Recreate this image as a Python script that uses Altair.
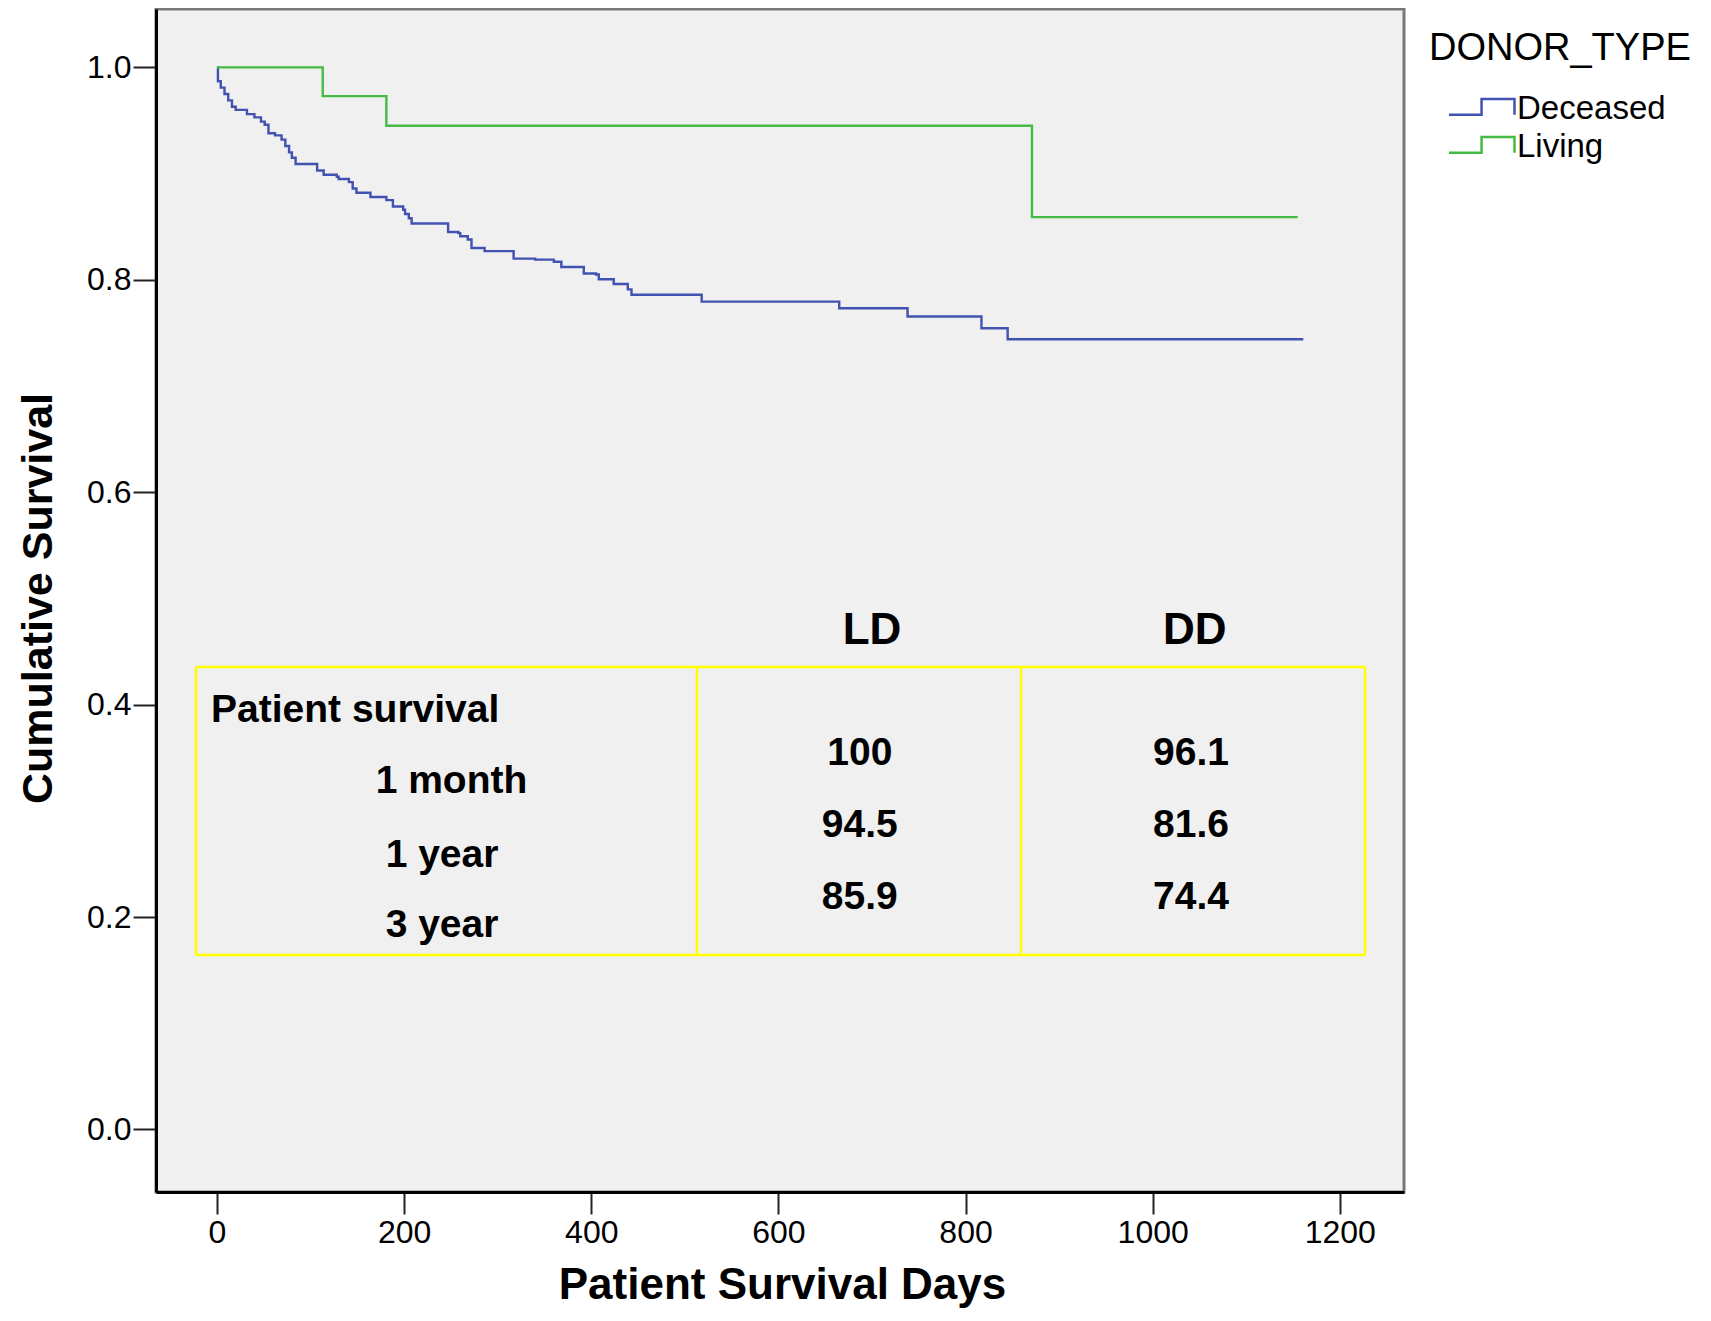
import altair as alt
import pandas as pd

# ---- survival curves (Kaplan-Meier steps) ----
deceased_days = [0, 1, 4, 8, 12, 16, 20, 32, 40, 47, 51, 55, 62, 69, 73, 77, 80, 84,
                 107, 114, 128, 130, 141, 145, 149, 164, 181, 188, 199, 201, 205, 208,
                 247, 258, 260, 268, 272, 286, 317, 340, 360, 368, 392, 405, 408, 424,
                 439, 443, 518, 665, 738, 817, 845, 1161]
deceased_surv = [1.0, 0.987, 0.981, 0.975, 0.969, 0.963, 0.960, 0.956, 0.953, 0.949, 0.946,
                 0.938, 0.936, 0.932, 0.926, 0.920, 0.915, 0.909, 0.903, 0.899, 0.897, 0.895,
                 0.892, 0.886, 0.882, 0.878, 0.875, 0.869, 0.866, 0.862, 0.858, 0.853,
                 0.845, 0.844, 0.841, 0.838, 0.830, 0.827, 0.820, 0.819, 0.817, 0.812,
                 0.806, 0.805, 0.8005, 0.796, 0.791, 0.786, 0.7795, 0.7733, 0.7654, 0.7544,
                 0.744, 0.744]
living_days = [0, 113, 181, 871, 1155]
living_surv = [1.0, 0.973, 0.945, 0.859, 0.859]

series_names = ["Deceased", "Living"]
series_colors = ["#4152B0", "#44BB44"]

x_ticks = [0, 200, 400, 600, 800, 1000, 1200]
y_ticks = [0.0, 0.2, 0.4, 0.6, 0.8, 1.0]

# ---- inset table text ----
table_headers = ["LD", "DD"]
table_title = ["Patient survival"]
table_rows = ["1 month", "1 year", "3 year"]
ld_values = ["100", "94.5", "85.9"]
dd_values = ["96.1", "81.6", "74.4"]

# anchors of the inset table, in data space (days, survival)
box_days = [-22.4, 513, 859.3, 1227]
box_surv = [0.4355, 0.1643]
header_days = [700, 1045]
header_surv = 0.4572
title_day = -6.4
title_surv = 0.3837
row_days = [250.6, 240.5, 240.5]
row_surv = [0.3169, 0.2472, 0.1813]
value_days = [687, 1041]
value_surv = [0.3432, 0.2754, 0.2076]

FONT = "Liberation Sans"

curves = pd.DataFrame({
    "day": deceased_days + living_days,
    "surv": deceased_surv + living_surv,
    "type": ["Deceased"] * len(deceased_days) + ["Living"] * len(living_days),
})


def xenc():
    return alt.X("day:Q", title="Patient Survival Days",
                 scale=alt.Scale(domain=[-65.2, 1268.6], nice=False, zero=False),
                 axis=alt.Axis(values=x_ticks, format="d", tickSize=22, labelPadding=3,
                               labelFontSize=32, titleFontSize=44, titleFontWeight="bold",
                               titleX=626, titleY=106, titleAlign="center",
                               titleBaseline="alphabetic", grid=False))


def yenc():
    return alt.Y("surv:Q", title="Cumulative Survival",
                 scale=alt.Scale(domain=[-0.0589, 1.055], nice=False, zero=False),
                 axis=alt.Axis(values=y_ticks, format=".1f", tickSize=23, labelPadding=2,
                               labelFontSize=32, titleFontSize=43, titleFontWeight="bold",
                               titleX=-105, titleY=589, titleAngle=270, titleAlign="center",
                               titleBaseline="alphabetic", grid=False))


lines = alt.Chart(curves).mark_line(interpolate="step-after", strokeWidth=2.4).encode(
    x=xenc(), y=yenc(),
    color=alt.Color("type:N", scale=alt.Scale(domain=series_names, range=series_colors),
                    legend=alt.Legend(
                        title="DONOR_TYPE", orient="none", legendX=1273, legendY=21,
                        titleFontSize=38, titleFontWeight="normal", titleColor="black",
                        titleLimit=600, labelLimit=400,
                        titlePadding=21, labelFontSize=33, labelColor="black",
                        symbolType="M0,0.31 L1.76,0.31 L1.76,-0.54 L3.54,-0.54 L3.54,0.31",
                        symbolSize=1369, symbolStrokeWidth=2.5, labelOffset=48,
                        rowPadding=1, padding=0)),
)

hrules = pd.DataFrame({"day": [box_days[0]] * 2, "day2": [box_days[-1]] * 2, "surv": box_surv})
vrules = pd.DataFrame({"day": box_days, "surv": [box_surv[0]] * 4, "surv2": [box_surv[1]] * 4})

h = alt.Chart(hrules).mark_rule(color="#FFFF00", strokeWidth=2.5).encode(
    x=xenc(), x2="day2:Q", y=yenc())
v = alt.Chart(vrules).mark_rule(color="#FFFF00", strokeWidth=2.5).encode(
    x=xenc(), y=yenc(), y2="surv2:Q")

headers_df = pd.DataFrame({"day": header_days, "surv": [header_surv] * 2, "t": table_headers})
title_df = pd.DataFrame({"day": [title_day], "surv": [title_surv], "t": table_title})
rows_df = pd.DataFrame({"day": row_days, "surv": row_surv, "t": table_rows})
vals_df = pd.DataFrame({
    "day": [value_days[0]] * 3 + [value_days[1]] * 3,
    "surv": value_surv + value_surv,
    "t": ld_values + dd_values,
})

txt_headers = alt.Chart(headers_df).mark_text(
    font=FONT, fontWeight="bold", fontSize=44, align="center", baseline="alphabetic",
    color="black").encode(x=xenc(), y=yenc(), text="t:N")
txt_title = alt.Chart(title_df).mark_text(
    font=FONT, fontWeight="bold", fontSize=39, align="left", baseline="alphabetic",
    color="black").encode(x=xenc(), y=yenc(), text="t:N")
txt_rows = alt.Chart(rows_df).mark_text(
    font=FONT, fontWeight="bold", fontSize=39, align="center", baseline="alphabetic",
    color="black").encode(x=xenc(), y=yenc(), text="t:N")
txt_vals = alt.Chart(vals_df).mark_text(
    font=FONT, fontWeight="bold", fontSize=39, align="center", baseline="alphabetic",
    color="black").encode(x=xenc(), y=yenc(), text="t:N")

chart = alt.layer(h, v, txt_headers, txt_title, txt_rows, txt_vals, lines).properties(
    width=1248, height=1183,
    autosize=alt.AutoSizeParams(type="none"),
    padding={"left": 148, "top": 1, "right": 295, "bottom": 117},
).configure(font=FONT).configure_view(
    fill="#F0F0F0", stroke="#787878", strokeWidth=3
).configure_axis(
    domainColor="black", domainWidth=3, tickColor="#222222", tickWidth=2,
    labelColor="black", titleColor="black", labelFont=FONT, titleFont=FONT
).configure_legend(labelFont=FONT, titleFont=FONT)

chart.save("out.html", embed_options={"renderer": "svg", "actions": False})
